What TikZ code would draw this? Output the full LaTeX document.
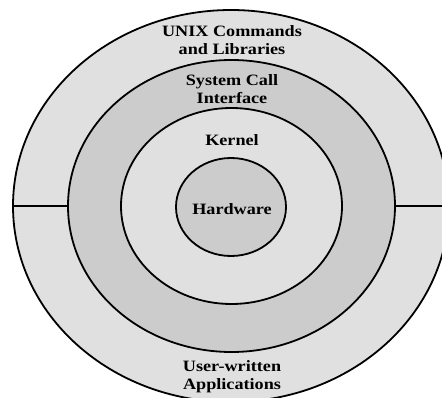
\documentclass[tikz,border=0pt]{standalone}
\usepackage{fontspec}
\setmainfont{Liberation Serif}[FakeStretch=1.15]
\usetikzlibrary{shapes.geometric}
\definecolor{ringlight}{HTML}{E0E0E0}
\definecolor{ringdark}{HTML}{CCCCCC}
\begin{document}
\begin{tikzpicture}[x=1pt,y=-1pt,
  layer/.style={ellipse,draw=black,line width=1.8pt,inner sep=0pt},
  lbl/.style={font=\bfseries\fontsize{15.8}{18}\selectfont,align=center,inner sep=0pt},
  divider/.style={draw=black,line width=1.8pt}]
  \useasboundingbox (0,0) rectangle (442,398);
  \clip (0,0) rectangle (442,398);
  % concentric layers, outermost first
  \node[layer,fill=ringlight,minimum width=436pt,minimum height=392pt] (outer) at (231,206) {};
  \node[layer,fill=ringdark,minimum width=327pt,minimum height=292pt] (syscall) at (231.5,206) {};
  \node[layer,fill=ringlight,minimum width=221pt,minimum height=196pt] (kernel) at (231.5,206) {};
  \node[layer,fill=ringdark,minimum width=110pt,minimum height=98pt] (hw) at (231,207) {};
  % split of the outer ring into upper and lower halves
  \draw[divider] (outer.west) -- (syscall.west);
  \draw[divider] (syscall.east) -- (outer.east);
  % labels
  \node[lbl] (unix) at (232,40) {UNIX Commands\\and Libraries};
  \node[lbl] (sci) at (232,89) {System Call\\Interface};
  \node[lbl] (kern) at (232,140) {Kernel};
  \node[lbl] (hwl) at (232,209) {Hardware};
  \node[lbl] (user) at (232,377) {User-written\\Applications};
\end{tikzpicture}
\end{document}
